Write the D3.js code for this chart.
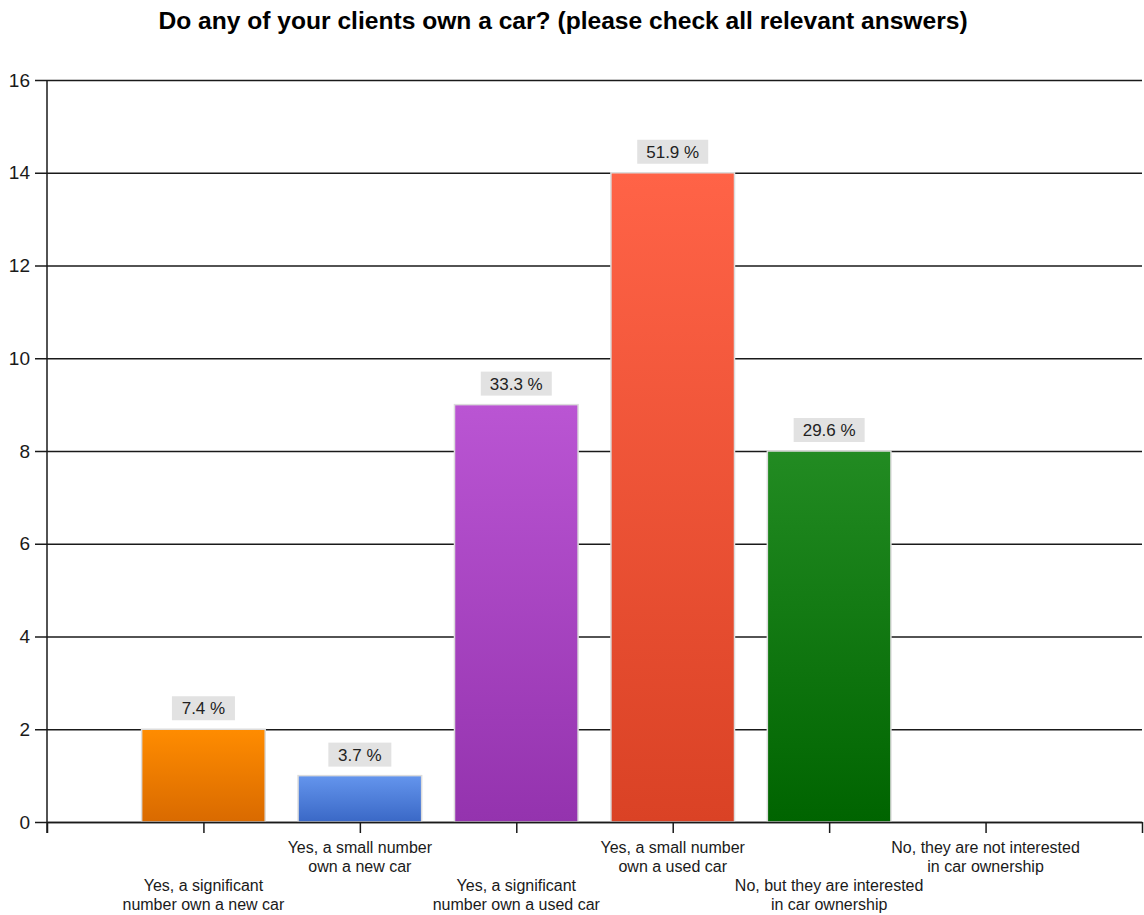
<!DOCTYPE html>
<html>
<head>
<meta charset="utf-8">
<script src="https://cdn.jsdelivr.net/npm/d3@7"></script>
<style>
  html, body { margin: 0; padding: 0; background: #fff; }
  svg { display: block; }
</style>
</head>
<body>
<div id="chart"></div>
<script>
// Survey question and answers
const title = "Do any of your clients own a car? (please check all relevant answers)";
const categories = [
  ["Yes, a significant", "number own a new car"],
  ["Yes, a small number", "own a new car"],
  ["Yes, a significant", "number own a used car"],
  ["Yes, a small number", "own a used car"],
  ["No, but they are interested", "in car ownership"],
  ["No, they are not interested", "in car ownership"]
];
const counts = [2, 1, 9, 14, 8, 0];
const respondents = 27;
const yTicks = [0, 2, 4, 6, 8, 10, 12, 14, 16];
const barTopColors = ["#FF8C00", "#6495ED", "#BA55D3", "#FF6347", "#228B22", "#888888"];
const barBottomColors = ["#D96A00", "#3A68C6", "#9433AE", "#DA4225", "#006400", "#666666"];

const W = 1144, H = 915;
const plot = { left: 47, right: 1142, top: 80, bottom: 822 };

const svg = d3.select("#chart").append("svg")
  .attr("width", W).attr("height", H)
  .style("font-family", "'Liberation Sans', Arial, sans-serif");

// Title
svg.append("text")
  .attr("x", 563).attr("y", 29)
  .attr("text-anchor", "middle")
  .attr("font-weight", "bold")
  .attr("font-size", 24.6)
  .attr("fill", "#000")
  .text(title);

// Scales: categories sit on integer positions 1..n, with a half slot of padding at each end
const x = d3.scaleLinear().domain([0, categories.length + 1]).range([plot.left, plot.right]);
const step = x(1) - x(0);
const barW = step * 0.79;
const y = d3.scaleLinear().domain([0, 16]).range([plot.bottom, plot.top]);

// Gradients for each bar
const defs = svg.append("defs");
counts.forEach((c, i) => {
  const g = defs.append("linearGradient")
    .attr("id", "grad" + i)
    .attr("x1", 0).attr("y1", 0).attr("x2", 0).attr("y2", 1);
  g.append("stop").attr("offset", "0%").attr("stop-color", barTopColors[i]);
  g.append("stop").attr("offset", "100%").attr("stop-color", barBottomColors[i]);
});

// Horizontal gridlines (with short ticks left of the axis)
const yAxis = d3.axisLeft(y)
  .tickValues(yTicks)
  .tickSize(-(plot.right - plot.left))
  .tickSizeOuter(0)
  .tickPadding(17)
  .tickFormat(d3.format("d"));
const gy = svg.append("g")
  .attr("transform", `translate(${plot.left},0)`)
  .call(yAxis);
gy.select(".domain").remove();
gy.selectAll(".tick line")
  .attr("x1", -12)
  .attr("stroke", "#1a1a1a")
  .attr("stroke-width", 1.5);
gy.selectAll(".tick text")
  .attr("font-size", 19)
  .attr("fill", "#1a1a1a")
  .attr("font-family", "'Liberation Sans', Arial, sans-serif");

// Bars
const bars = svg.append("g");
counts.forEach((c, i) => {
  if (c <= 0) return;
  const cx = x(i + 1);
  bars.append("rect")
    .attr("x", cx - barW / 2)
    .attr("y", y(c))
    .attr("width", barW)
    .attr("height", y(0) - y(c))
    .attr("fill", `url(#grad${i})`)
    .attr("stroke", "#dcdcdc")
    .attr("stroke-width", 1.5);
});

// Value labels (share of respondents)
const fmt = d3.format(".1f");
const labels = svg.append("g");
counts.forEach((c, i) => {
  if (c <= 0) return;
  const cx = x(i + 1);
  const t = fmt(c / respondents * 100) + " %";
  const boxW = t.length > 5 ? 71 : 63;
  const boxH = 24;
  const by = y(c) - 9 - boxH;
  labels.append("rect")
    .attr("x", cx - boxW / 2).attr("y", by)
    .attr("width", boxW).attr("height", boxH)
    .attr("fill", "#e2e2e2");
  labels.append("text")
    .attr("x", cx).attr("y", by + boxH / 2 + 6)
    .attr("text-anchor", "middle")
    .attr("font-size", 17)
    .attr("fill", "#222")
    .text(t);
});

// Left axis line
svg.append("line")
  .attr("x1", plot.left).attr("x2", plot.left)
  .attr("y1", plot.top).attr("y2", plot.bottom + 11)
  .attr("stroke", "#1a1a1a").attr("stroke-width", 1.5);

// Bottom axis with category ticks
const xTickVals = d3.range(0, categories.length + 2);
const gx = svg.append("g")
  .attr("transform", `translate(0,${plot.bottom})`)
  .call(d3.axisBottom(x).tickValues(xTickVals).tickSize(11).tickSizeOuter(0).tickFormat(""));
gx.select(".domain").attr("stroke", "#1a1a1a").attr("stroke-width", 1.5);
gx.selectAll(".tick line").attr("stroke", "#1a1a1a").attr("stroke-width", 1.5);

// Category labels, staggered on two rows
const catG = svg.append("g");
categories.forEach((lines, i) => {
  const cx = x(i + 1);
  const base = (i % 2 === 0) ? 891 : 853;
  const t = catG.append("text")
    .attr("text-anchor", "middle")
    .attr("font-size", 16)
    .attr("fill", "#1a1a1a");
  lines.forEach((ln, k) => {
    t.append("tspan").attr("x", cx).attr("y", base + k * 19).text(ln);
  });
});
</script>
</body>
</html>
